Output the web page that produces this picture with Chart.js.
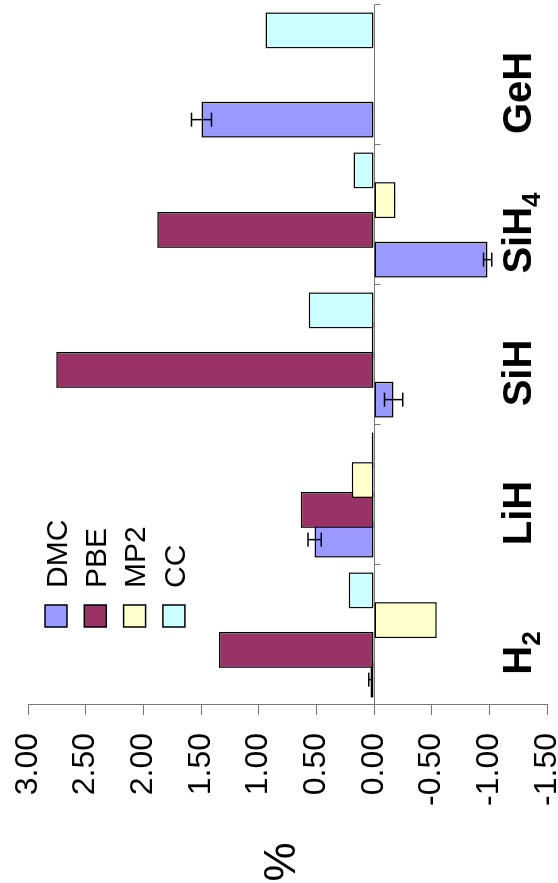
<!DOCTYPE html>
<html>
<head>
<meta charset="utf-8">
<script src="https://cdn.jsdelivr.net/npm/chart.js@4"></script>
<style>
  html, body { margin: 0; padding: 0; background: #fff; overflow: hidden; }
  /* the figure is drawn upright and then turned a quarter turn to the left */
  #wrap { position: absolute; left: 0; top: 0; width: 883px; height: 558px;
          transform-origin: 0 0; transform: translate(0, 883px) rotate(-90deg); }
</style>
</head>
<body>
<div id="wrap"><canvas id="chart" width="883" height="558"></canvas></div>
<script>
const categories = ["H2", "LiH", "SiH", "SiH4", "GeH"];
const seriesNames = ["DMC", "PBE", "MP2", "CC"];

const dmc    = [0.03, 0.515, -0.17, -0.985, 1.495];
const dmcErr = [0.015, 0.058, 0.08, 0.036, 0.087];
const pbe    = [1.345, 0.636, 2.755, 1.88, null];
const mp2    = [-0.544, 0.194, 0.02, -0.187, null];
const cc     = [0.22, 0.02, 0.566, 0.177, 0.94];

const colors = ["#9999ff", "#993366", "#ffffcc", "#ccffff"];
const FONT = "'Liberation Sans', Arial, sans-serif";

// category axis at zero, later series drawn on top, error bars, labels, legend
const overlay = {
    id: "overlay",
    beforeDatasetsDraw(chart) {
        const { ctx, chartArea: a, scales: { x, y } } = chart;
        const y0 = Math.round(y.getPixelForValue(0)) + 0.5;
        const step = x.getPixelForValue(1) - x.getPixelForValue(0);
        ctx.save();
        ctx.strokeStyle = "#777";
        ctx.lineWidth = 1;
        ctx.beginPath();
        ctx.moveTo(a.left, y0);
        ctx.lineTo(a.right, y0);
        for (let i = 0; i <= categories.length; i++) {
            const bx = Math.round(x.getPixelForValue(i) - step / 2) + 0.5;
            ctx.moveTo(bx, y0);
            ctx.lineTo(bx, y0 + 6);
        }
        ctx.stroke();
        ctx.restore();

        chart.getSortedVisibleDatasetMetas()
            .slice()
            .sort((p, q) => p.index - q.index)
            .forEach(m => m.controller.draw());
        return false;
    },
    afterDraw(chart) {
        const { ctx, chartArea: a, scales: { x, y } } = chart;
        ctx.save();

        // DMC error bars
        ctx.strokeStyle = "#000";
        ctx.lineWidth = 1.5;
        chart.getDatasetMeta(0).data.forEach((bar, i) => {
            const lo = y.getPixelForValue(dmc[i] - dmcErr[i]);
            const hi = y.getPixelForValue(dmc[i] + dmcErr[i]);
            ctx.beginPath();
            ctx.moveTo(bar.x, lo); ctx.lineTo(bar.x, hi);
            ctx.moveTo(bar.x - 7, lo); ctx.lineTo(bar.x + 7, lo);
            ctx.moveTo(bar.x - 7, hi); ctx.lineTo(bar.x + 7, hi);
            ctx.stroke();
        });

        // category names, trailing digits as subscripts
        ctx.fillStyle = "#000";
        ctx.textAlign = "left";
        ctx.textBaseline = "alphabetic";
        const base = a.bottom - 16;
        categories.forEach((name, i) => {
            const m = name.match(/^(.*?)(\d*)$/);
            ctx.font = "bold 40px " + FONT;
            const w1 = ctx.measureText(m[1]).width;
            ctx.font = "bold 26px " + FONT;
            const w2 = m[2] ? ctx.measureText(m[2]).width : 0;
            const left = x.getPixelForValue(i) - 18 - (w1 + w2) / 2;
            ctx.font = "bold 40px " + FONT;
            ctx.fillText(m[1], left, base);
            if (m[2]) {
                ctx.font = "bold 26px " + FONT;
                ctx.fillText(m[2], left + w1, base + 9);
            }
        });

        // legend inside the plot
        ctx.font = "30px " + FONT;
        ctx.lineWidth = 1.5;
        seriesNames.forEach((name, i) => {
            const cy = a.top + 28 + i * 39.3;
            const mx = a.left + 78;
            ctx.fillStyle = colors[i];
            ctx.fillRect(mx, cy - 11, 22, 22);
            ctx.strokeRect(mx, cy - 11, 22, 22);
            ctx.fillStyle = "#000";
            ctx.fillText(name, mx + 39, cy + 10.7);
        });

        // axis title
        ctx.font = "44px " + FONT;
        ctx.textAlign = "center";
        ctx.textBaseline = "middle";
        ctx.fillText("%", 21, 283);
        ctx.restore();
    }
};

new Chart(document.getElementById("chart"), {
    type: "bar",
    data: {
        labels: categories,
        datasets: [dmc, pbe, mp2, cc].map((values, i) => ({
            label: seriesNames[i],
            data: values,
            backgroundColor: colors[i],
            borderColor: "#000",
            borderWidth: 1.5,
            borderSkipped: false,
            categoryPercentage: 0.85,
            barPercentage: 1.21
        }))
    },
    options: {
        responsive: false,
        animation: false,
        layout: { padding: { top: 28, bottom: 11, right: 5, left: 0 } },
        plugins: { legend: { display: false }, tooltip: { enabled: false } },
        scales: {
            x: { display: false },
            y: {
                min: -1.5,
                max: 3,
                ticks: {
                    stepSize: 0.5,
                    padding: 18,
                    color: "#000",
                    font: { family: FONT, size: 32 },
                    callback: v => v.toFixed(2)
                },
                grid: { drawOnChartArea: false, tickLength: 10, color: "#777" },
                border: { color: "#777" },
                afterFit(s) {
                    s.width = 178;
                    s.paddingTop = 0;
                    s.paddingBottom = 0;
                }
            }
        }
    },
    plugins: [overlay]
});
</script>
</body>
</html>
